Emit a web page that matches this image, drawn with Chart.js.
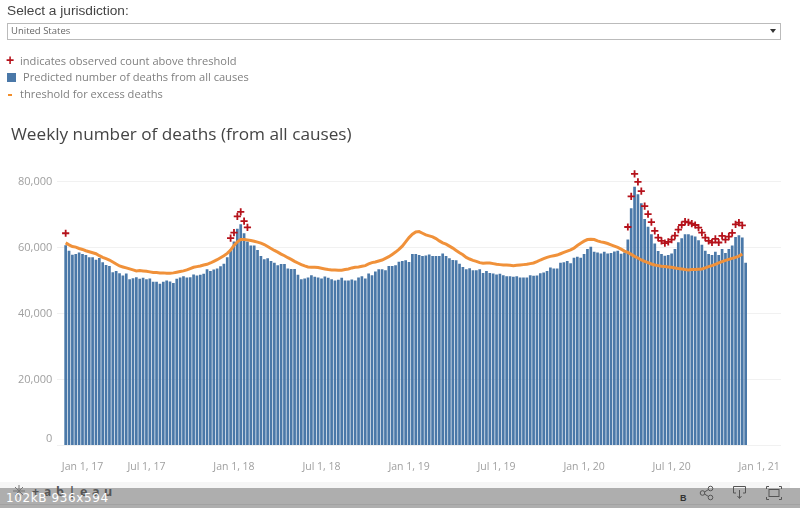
<!DOCTYPE html>
<html>
<head>
<meta charset="utf-8">
<title>Weekly number of deaths</title>
<script src="https://cdn.jsdelivr.net/npm/chart.js@4"></script>
<style>
  html, body { margin: 0; padding: 0; background: #fff; overflow: hidden; }
  #page { position: relative; width: 800px; height: 508px; font-family: "Open Sans", sans-serif; }
  #page div, #page span { position: absolute; white-space: nowrap; }
  canvas { position: absolute; left: 0; top: 0; }
  #pick { left: 7px; top: 3px; font: 13.7px/16px "Liberation Sans", sans-serif; color: #444; }
  #box { left: 7px; top: 23px; width: 772px; height: 15px; border: 1px solid #bbb; }
  #boxText { left: 11px; top: 24px; font-size: 9.5px; line-height: 14px; color: #666; }
  #arrow { left: 770px; top: 29px; width: 0; height: 0; border-left: 3.5px solid transparent; border-right: 3.5px solid transparent; border-top: 4px solid #333; }
  .leg { font-size: 11.1px; line-height: 16px; color: #808080; }
  #title { left: 11px; top: 121px; font-size: 17.2px; line-height: 26px; color: #444; }
  #band { left: 0; top: 482px; width: 790px; height: 6px; background: #f6f6f6; }
  #bar { left: 0; top: 488px; width: 800px; height: 20px; background: #aeaeae; }
  #barLine { left: 0; top: 504px; width: 800px; height: 1px; background: #a2a2a2; }
  #logo { left: 32px; top: 484px; font-weight: bold; font-size: 12.5px; line-height: 16px; letter-spacing: 4.6px; color: #555; }
  #size { left: 6px; top: 490px; font: 12px/16px "DejaVu Sans", sans-serif; letter-spacing: 0.6px; color: #fff; }
  #b { left: 680px; top: 491px; font: bold 9px/14px "Liberation Sans", sans-serif; color: #333; }
  svg { position: absolute; }
</style>
</head>
<body>
<div id="page">
  <canvas id="myChart" width="800" height="508"></canvas>
  <div id="pick">Select a jurisdiction:</div>
  <div id="box"></div>
  <div id="boxText">United States</div>
  <div id="arrow"></div>
  <span style="left:6px;top:51px;font:bold 14px/18px 'Liberation Sans';color:#b5121b">+</span>
  <div class="leg" style="left:20px;top:53px">indicates observed count above threshold</div>
  <div style="left:7px;top:73px;width:9px;height:9px;background:#4a78a8"></div>
  <div class="leg" style="left:23px;top:69px">Predicted number of deaths from all causes</div>
  <div style="left:8px;top:94px;width:4px;height:2px;background:#f28e2b"></div>
  <div class="leg" style="left:20px;top:86px">threshold for excess deaths</div>
  <div id="title">Weekly number of deaths (from all causes)</div>
  <div id="band"></div>
  <div id="bar"></div>
  <div id="barLine"></div>
  <svg style="left:12px;top:485px" width="14" height="12" fill="none" stroke="#777" stroke-width="1">
    <path d="M7 0V12M1 6H13M3 2L11 10M11 2L3 10"/>
  </svg>
  <div id="logo">+ab|eau</div>
  <div id="size">102kB 936x594</div>
  <div id="b">B</div>
  <svg style="left:699px;top:485px" width="16" height="16" fill="none" stroke="#555" stroke-width="1">
    <circle cx="3.5" cy="8" r="2.3"/><circle cx="11.5" cy="3.5" r="2.3"/><circle cx="11.5" cy="12.5" r="2.3"/>
    <path d="M5.5 7L9.5 4.5M5.5 9L9.5 11.5"/>
  </svg>
  <svg style="left:732px;top:485px" width="16" height="16" fill="none" stroke="#555" stroke-width="1">
    <path d="M4 8H1.5V1.5H13.5V8H11M7.5 5V13M5.5 11L7.5 13.5L9.5 11"/>
  </svg>
  <svg style="left:766px;top:486px" width="16" height="15" fill="none" stroke="#555" stroke-width="1">
    <rect x="3" y="3.5" width="10" height="7"/>
    <path d="M0.5 3V0.5H3M13 0.5H15.5V3M0.5 11V13.5H3M13 13.5H15.5V11"/>
  </svg>
</div>
<script>
// datos, una entrada por semana
const predictedDeaths = [
  60700,59000,57800,58000,58500,58000,57700,57000,57000,56300,
  56800,55500,54700,54400,52500,52900,52200,51500,52100,50400,
  50700,51000,50500,50800,50400,50600,49600,49600,49000,49600,
  50000,49700,49200,50500,50900,51300,50900,51000,51800,51500,
  51700,52000,53400,52900,53300,53600,54300,55100,57000,58900,
  61800,65700,67000,64300,61800,60600,60600,59200,57400,56400,
  56700,55900,55400,54600,55000,55000,53600,53500,53500,51700,
  50400,50600,50900,51600,51100,50900,50600,51200,50800,50400,
  50000,50200,50800,50000,50000,50300,50000,50900,51300,50600,
  52100,51600,52700,53400,53400,53100,54400,54400,54600,55700,
  55900,56100,55600,58000,58000,57700,57400,57600,57900,57400,
  57400,57400,58200,57400,56700,56200,56100,55100,54100,53400,
  53700,53100,53100,53400,52300,52900,52300,52100,51800,52000,
  51600,51300,51300,51100,51300,50900,50900,50900,51600,51400,
  51500,52200,52400,52900,53900,53600,53600,55400,55500,55900,
  55200,56900,57200,56900,58000,59500,60200,58700,58500,58200,
  58700,58200,58300,58800,59000,58100,58500,62400,71900,78400,
  76100,73400,68600,66300,64000,61200,58900,58000,57500,57700,
  58200,59500,61600,62800,64000,64000,63600,63300,62200,60800,
  59000,58000,57700,58700,57700,59500,58300,59500,60600,63200,
  63700,63000,55400
];

const thresholdDeaths = [
  61400,60800,60300,60100,59700,59400,59000,58700,58400,58100,
  57500,57000,56600,56200,55600,55000,54400,54100,53800,53500,
  53200,52900,53000,52900,52800,52600,52400,52400,52300,52300,
  52200,52200,52300,52500,52700,52900,53200,53600,54000,54200,
  54400,54700,54900,55300,55800,56300,56900,57500,58200,59200,
  60600,61700,62400,62400,62300,62100,61900,61600,61300,60900,
  60300,59700,59100,58600,58000,57500,56900,56400,55800,55300,
  54800,54400,54100,54000,54000,53900,53700,53500,53300,53200,
  53200,53100,53100,53300,53500,53800,54000,54100,54300,54500,
  55000,55400,55600,55900,56200,56700,57200,57900,58600,59400,
  60400,61700,63000,64000,64700,64800,64300,63800,63500,63200,
  62700,62000,61400,61000,60400,59800,59100,58400,57800,57000,
  56500,56100,55800,55400,55200,55300,55300,55100,54900,54800,
  54700,54700,54600,54500,54600,54700,54800,54900,55100,55300,
  55700,56200,56600,57000,57300,57500,57700,58100,58500,58900,
  59300,59800,60600,61300,61900,62400,62500,62400,62000,61700,
  61500,61200,60800,60400,60000,59500,58900,58500,57900,57300,
  56800,56200,55800,55400,55000,54700,54500,54300,54200,54100,
  54000,53800,53600,53500,53300,53200,53300,53300,53400,53500,
  53800,54200,54500,54900,55300,55700,56100,56400,56700,57000,
  57400,58000,null
];

// semanas donde aparece la cruz roja y su conteo observado
const observedWeeks = [
  0,49,50,51,52,53,54,
  167,168,169,170,171,172,173,174,175,176,
  177,178,179,180,181,182,183,184,185,186,
  187,188,189,190,191,192,193,194,195,196,
  197,198,199,200,201
];
const observedCounts = [
  64300,62800,64500,69400,70800,68000,66100,
  66200,75500,82300,79900,77100,72500,70100,67700,65000,63000,
  62000,61300,61700,62400,63600,65400,66800,67800,67600,67200,
  66800,66000,64500,63000,62000,61500,62600,61500,63500,62400,
  63300,64400,67000,67500,66700
];

const yTicks = [0, 20000, 40000, 60000, 80000];
const tickWeeks = [7, 26, 52, 78, 104, 130, 156, 182, 208];
const tickLabels = ['Jan 1, 17','Jul 1, 17','Jan 1, 18','Jul 1, 18','Jan 1, 19','Jul 1, 19','Jan 1, 20','Jul 1, 20','Jan 1, 21'];

const blankBefore = 2;
const blankAfter = 10;

// eje x con semanas vacias a cada lado, igual que el original
let semanas = [];
for (let i = 0; i < blankBefore + predictedDeaths.length + blankAfter; i++) {
    semanas.push(i);
}

function conHuecos(serie) {
    return Array(blankBefore).fill(null).concat(serie, Array(blankAfter).fill(null));
}

let observados = predictedDeaths.map(() => null);
observedWeeks.forEach((semana, i) => {
    observados[semana] = observedCounts[i];
});

new Chart(document.getElementById('myChart').getContext('2d'), {
    type: 'bar',
    data: {
        labels: semanas,
        datasets: [
            {
                type: 'line',
                data: conHuecos(observados),
                showLine: false,
                pointStyle: 'cross',
                pointRadius: 3.6,
                pointBorderWidth: 1.8,
                pointBorderColor: '#b5121b',
                order: 1
            },
            {
                type: 'line',
                data: conHuecos(thresholdDeaths),
                borderColor: '#f0913a',
                borderWidth: 3,
                pointRadius: 0,
                tension: 0,
                order: 2
            },
            {
                data: conHuecos(predictedDeaths),
                backgroundColor: '#4a78a8',
                categoryPercentage: 1,
                barPercentage: 0.8,
                order: 3
            }
        ]
    },
    options: {
        responsive: false,
        animation: false,
        layout: { padding: { top: 160, right: 19 } },
        plugins: { legend: { display: false }, tooltip: { enabled: false } },
        scales: {
            x: {
                afterFit: (axis) => { axis.height = 62.5; },
                grid: { display: false },
                border: { display: false },
                ticks: {
                    autoSkip: false,
                    maxRotation: 0,
                    minRotation: 0,
                    padding: 7,
                    color: '#a0a0a0',
                    font: { family: '"Open Sans", sans-serif', size: 10.5 },
                    callback: (value, index) => {
                        const pos = tickWeeks.indexOf(index);
                        return pos >= 0 ? tickLabels[pos] : '';
                    }
                }
            },
            y: {
                min: 0,
                max: 86500,
                afterFit: (axis) => { axis.width = 57.25; },
                afterBuildTicks: (axis) => { axis.ticks = yTicks.map((v) => ({ value: v })); },
                grid: { color: '#f1f1f1', drawTicks: false },
                border: { display: false },
                ticks: {
                    padding: 5,
                    color: '#a0a0a0',
                    font: { family: '"Open Sans", sans-serif', size: 11 },
                    // el 0 va un poco mas arriba de su linea
                    callback: (value) => value === 0 ? ['0', ''] : value.toLocaleString('en-US')
                }
            }
        }
    }
});
</script>
</body>
</html>
